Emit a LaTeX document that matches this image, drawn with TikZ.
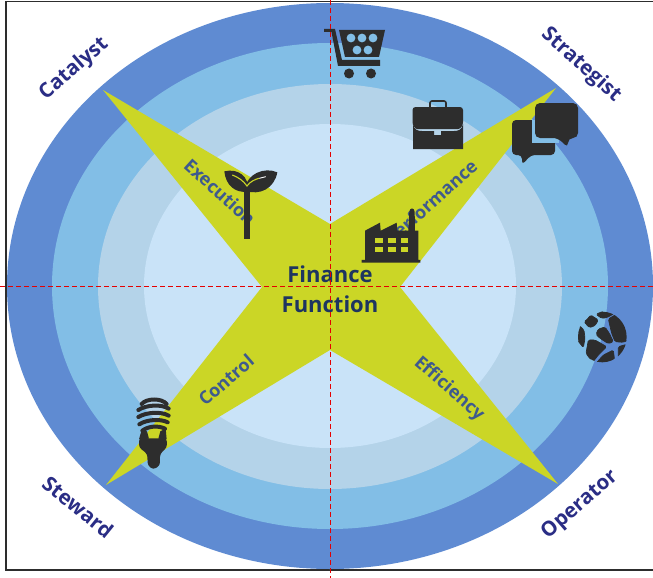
\documentclass[tikz,border=0pt]{standalone}
\usepackage{fontspec}
\setmainfont{Open Sans}
\definecolor{ringA}{HTML}{5F8BD2}
\definecolor{ringB}{HTML}{82BEE6}
\definecolor{ringC}{HTML}{B4D3E9}
\definecolor{ringD}{HTML}{C9E3F8}
\definecolor{starc}{HTML}{CBD626}
\definecolor{navy}{HTML}{2A2D85}
\definecolor{inner}{HTML}{3E5A8E}
\definecolor{core}{HTML}{1E3560}
\definecolor{icon}{HTML}{2D2D2D}
\tikzset{
  role/.style={font=\bfseries\fontsize{20.5}{20.5}\selectfont,text=navy,inner sep=0pt},
  axislabel/.style={font=\fontsize{18}{18}\selectfont\bfseries,text=inner,inner sep=0pt},
  corelabel/.style={font=\bfseries\fontsize{22}{30}\selectfont,text=core,align=center,inner sep=0pt},
  redline/.style={red!90!black,line width=0.9pt,dash pattern=on 5pt off 3pt},
  ic/.style={fill=icon,draw=none},
  gl/.style={fill=icon,draw=icon,line width=0.7pt,rounded corners=1.5pt},
  zoomed/.style={shift={#1},x=0.3333pt,y=-0.3333pt},
  coil/.style={icon,line width=4pt,line cap=round}
}
\begin{document}
\begin{tikzpicture}[x=1pt,y=-1pt]
\useasboundingbox (0,0) rectangle (653,578);
\fill[white] (0,0) rectangle (653,578);
% frame
\draw[icon,line width=1.2pt] (653,1.5) -- (6,1.5) -- (6,570) -- (653,570);
% rings
\fill[ringA] (330,286) ellipse [x radius=323,y radius=283];
\fill[ringB] (330,286) ellipse [x radius=278,y radius=243];
\fill[ringC] (330,286.5) ellipse [x radius=232,y radius=202.5];
\fill[ringD] (330,286) ellipse [x radius=186,y radius=162];
% star
\fill[starc] (103,90) -- (330,224) -- (556,88) -- (400,287) -- (558,484) -- (330,350) -- (106,485) -- (262,287) -- cycle;
% axis labels
\node[axislabel,rotate=-42] (exec) at (220,192) {Execution};
\node[axislabel,rotate=42] (perf) at (431,202) {Performance};
\node[axislabel,rotate=41] (ctrl) at (226,380) {Control};
\node[axislabel,rotate=-41] (effi) at (449,389) {Efficiency};
% role labels
\node[role,rotate=41] (cat) at (74,69) {Catalyst};
\node[role,rotate=-42] (str) at (581,65) {Strategist};
\node[role,rotate=-39] (stw) at (78,507) {Steward};
\node[role,rotate=41] (opr) at (580,505) {Operator};
% cart
\fill[ic] (324,29) -- (335,29) -- (342,60) -- (380,60) -- (380,66) -- (338,66) -- (331.5,32) -- (324,32) -- cycle;
\fill[ic] (339,30) -- (385,30) -- (379,57) -- (345,57) -- cycle;
\fill[ic] (349,73.5) circle (5) (371,73.5) circle (5);
\fill[ringB] (351,38) circle (4.4) (362,38) circle (4.4) (373,38) circle (4.4) (357,50) circle (4.4) (368,50) circle (4.4);
% briefcase
\draw[icon,line width=1.6pt,rounded corners=2pt] (430,107) -- (430,101) -- (446,101) -- (446,107);
\fill[ic,rounded corners=3pt] (412.5,107) -- (463,107) -- (463,119) .. controls (463,125) and (461,129) .. (455,129) -- (420,129) .. controls (415,129) and (412.5,125) .. (412.5,119) -- cycle;
\fill[ic] (413,124) .. controls (414,130) and (418,131) .. (422,131) -- (434,131) -- (434,135) -- (441,135) -- (441,131) -- (454,131) .. controls (458,131) and (462,130) .. (463,124) -- (463,149) -- (413,149) -- cycle;
% chat bubbles
\fill[ic,rounded corners=4pt] (512,120) -- (555,120) -- (555,155) -- (531,155) -- (522,165) -- (522,155) -- (512,155) -- cycle;
\fill[ringB] (532,119.5) rectangle (559,143);
\fill[ic,rounded corners=5pt] (535,103) -- (578,103) -- (578,138) -- (568,138) -- (568,148) -- (558,138) -- (535,138) -- cycle;
% factory
\begin{scope}[zoomed={(355,200)}]
\fill[ic] (20,180) -- (30,180) -- (30,92) -- (75,68) -- (77,92) -- (125,68) -- (127,92) -- (160,92) -- (163,35) .. controls (165,22) and (177,22) .. (179,35) -- (180,92) -- (190,92) -- (190,180) -- (196,180) -- (196,188) -- (20,188) -- cycle;
\foreach \wx/\wz in {60/83,100/122,137/160} \foreach \wy/\wt in {115/130,142/157}
  \fill[starc] (\wx,\wy) rectangle (\wz,\wt);
\end{scope}
% sprout
\begin{scope}[zoomed={(215,160)}]
\fill[ic] (88,85) rectangle (104,236);
\fill[ic] (28,34) .. controls (70,24) and (105,50) .. (98,95) .. controls (60,100) and (32,75) .. (28,34) -- cycle;
\fill[ic] (187,37) .. controls (150,20) and (92,40) .. (90,92) .. controls (135,108) and (178,85) .. (187,37) -- cycle;
\draw[starc,line width=1.1pt] (52,45) .. controls (70,52) and (85,62) .. (96,78) .. controls (105,65) and (120,58) .. (132,55);
\draw[white,line width=0.9pt] (133,55) -- (152,50);
\end{scope}
% bulb
\begin{scope}[zoomed={(125,390)}]
\draw[coil] (50,42) .. controls (65,24) and (110,24) .. (125,42);
\draw[coil] (40,60) .. controls (65,44) and (110,42) .. (131,56);
\draw[coil] (40,81) .. controls (65,66) and (110,64) .. (131,77);
\draw[coil] (43,103) .. controls (65,88) and (108,86) .. (128,97);
\draw[coil] (52,122) .. controls (70,108) and (100,106) .. (120,116);
\fill[ic] (50,120) -- (66,124) -- (72,146) -- (42,148) -- cycle;
\fill[ic] (122,116) -- (106,124) -- (100,146) -- (125,148) -- cycle;
\fill[ic,rounded corners=3pt] (42,145) -- (125,145) -- (126,172) -- (105,192) -- (105,226) -- (85,239) -- (68,226) -- (67,192) -- (42,172) -- cycle;
\end{scope}
% globe
\begin{scope}[zoomed={(570,305)}]
\clip (97,96) circle [x radius=73,y radius=76];
\fill[gl] (50,45) -- (62,30) -- (85,45) -- (75,62) -- (58,68) -- (42,50) -- cycle;
\fill[gl] (78,28) -- (105,16) -- (140,22) -- (110,38) -- (95,40) -- cycle;
\fill[gl] (115,42) -- (142,26) -- (175,70) -- (175,105) -- (160,112) -- (135,110) -- (125,85) -- cycle;
\fill[gl] (85,72) -- (105,66) -- (118,85) -- (130,110) -- (115,116) -- (90,100) -- (78,88) -- cycle;
\fill[gl] (28,62) -- (42,75) -- (45,100) -- (40,128) -- (22,105) -- (20,85) -- cycle;
\fill[gl] (55,105) -- (75,105) -- (110,125) -- (85,150) -- (68,172) -- (48,145) -- cycle;
\fill[gl] (78,175) -- (100,150) -- (130,135) -- (134,168) -- (110,176) -- cycle;
\fill[gl] (145,125) -- (170,118) -- (160,148) -- (145,162) -- cycle;
\end{scope}
% center text
\node[corelabel] (fin) at (330,289) {Finance\\Function};
% red axes
\coordinate (hl) at (0,286); \coordinate (hr) at (653,286);
\coordinate (vt) at (330,0); \coordinate (vb) at (330,578);
\draw[redline] (hl) -- (hr);
\draw[redline] (vt) -- (vb);
\end{tikzpicture}
\end{document}
